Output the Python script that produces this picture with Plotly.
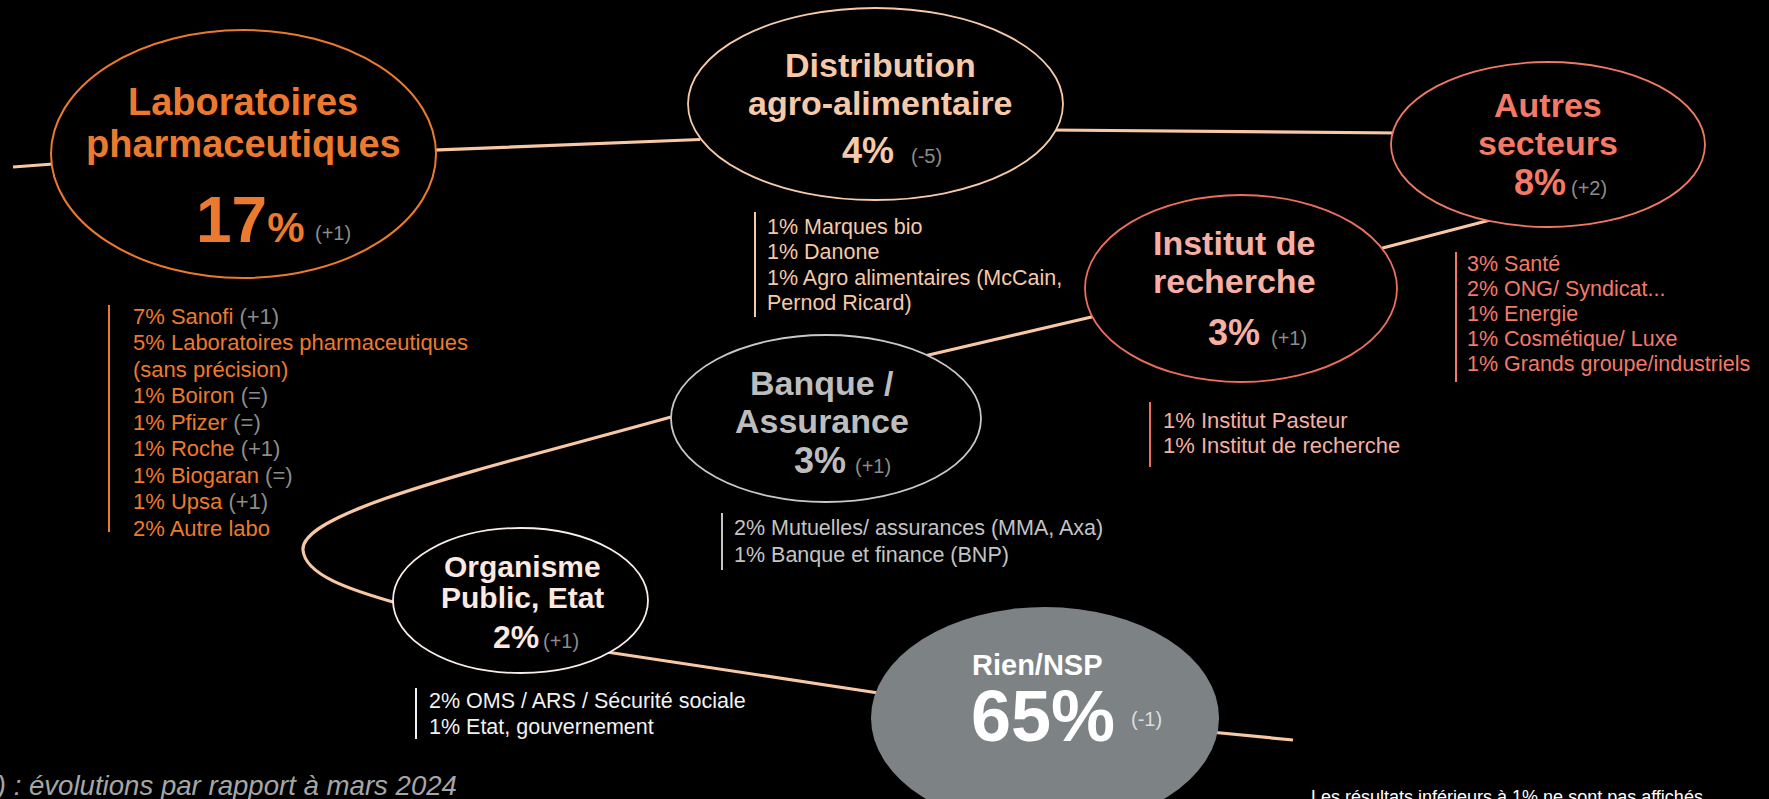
import plotly.graph_objects as go

W, H = 1769, 799
FONT = "Liberation Sans, Arial, sans-serif"

# ------------------------------------------------------------------ data
sectors = ["Laboratoires<br>pharmaceutiques", "Distribution<br>agro-alimentaire",
           "Autres<br>secteurs", "Institut de<br>recherche", "Banque /<br>Assurance",
           "Organisme<br>Public, Etat", "Rien/NSP"]
sector_values = [17, 4, 8, 3, 3, 2, 65]
sector_changes = ["+1", "-5", "+2", "+1", "+1", "+1", "-1"]

labo_labels = ["Sanofi", "Laboratoires pharmaceutiques<br>(sans précision)", "Boiron", "Pfizer",
               "Roche", "Biogaran", "Upsa", "Autre labo"]
labo_values = [7, 5, 1, 1, 1, 1, 1, 2]
labo_changes = ["+1", "", "=", "=", "+1", "=", "+1", ""]

dist_labels = ["Marques bio", "Danone", "Agro alimentaires (McCain,<br>Pernod Ricard)"]
dist_values = [1, 1, 1]

autres_labels = ["Santé", "ONG/ Syndicat...", "Energie", "Cosmétique/ Luxe", "Grands groupe/industriels"]
autres_values = [3, 2, 1, 1, 1]

institut_labels = ["Institut Pasteur", "Institut de recherche"]
institut_values = [1, 1]

banque_labels = ["Mutuelles/ assurances (MMA, Axa)", "Banque et finance (BNP)"]
banque_values = [2, 1]

orga_labels = ["OMS / ARS / Sécurité sociale", "Etat, gouvernement"]
orga_values = [2, 1]

sub_labels = [labo_labels, dist_labels, autres_labels, institut_labels, banque_labels, orga_labels, []]
sub_values = [labo_values, dist_values, autres_values, institut_values, banque_values, orga_values, []]
sub_changes = [labo_changes, [], [], [], [], [], []]

footnote_left = "(xx) : évolutions par rapport à mars 2024"
footnote_right = "Les résultats inférieurs à 1% ne sont pas affichés"

# ------------------------------------------------------------------ layout / styles
nodes = [
    dict(box=(51, 436, 30, 278), border="#EC7A2E", bw=2, fill="#000000", tc="#EC7A2E", tfs=38,
         tcx=243, tb=[115, 157], nx=195, nb=242, nfs=64, pfs=42, cx=314, cb=240,
         bar=(109, 305, 532), lx=132, l0=316, ls=26.5, lfs=22, lc="#EC7A2E"),
    dict(box=(688, 1063, 8, 200), border="#F6C9A8", bw=1.8, fill="#000000", tc="#F6C9A8", tfs=34,
         tcx=880, tb=[77, 115], nx=841, nb=163, nfs=36, pfs=36, cx=910, cb=163,
         bar=(755, 212, 317), lx=766, l0=227, ls=25.4, lfs=21.5, lc="#F6C9A8"),
    dict(box=(1391, 1705, 62, 227), border="#F07864", bw=1.8, fill="#000000", tc="#F47A66", tfs=34,
         tcx=1548, tb=[117, 155], nx=1513, nb=195, nfs=36, pfs=36, cx=1570, cb=195,
         bar=(1456, 252, 382), lx=1466, l0=264, ls=25, lfs=21.5, lc="#F27A68"),
    dict(box=(1085, 1397, 195, 382), border="#EE6E5E", bw=1.8, fill="#000000", tc="#F6AFA2", tfs=34,
         tcx=1234, tb=[255, 293], nx=1207, nb=345, nfs=36, pfs=36, cx=1270, cb=345,
         bar=(1150, 402, 467), lx=1162, l0=420, ls=25, lfs=22, lc="#F3B0A3"),
    dict(box=(671, 981, 335, 502), border="#C8C8C8", bw=1.8, fill="#000000", tc="#BDBDBD", tfs=34,
         tcx=822, tb=[395, 433], nx=793, nb=473, nfs=36, pfs=36, cx=854, cb=473,
         bar=(722, 513, 570), lx=733, l0=528, ls=27, lfs=21.5, lc="#C4C4C4"),
    dict(box=(393, 648, 528, 673), border="#F8EDE8", bw=1.8, fill="#000000", tc="#FCE9E1", tfs=30,
         tcx=522, tb=[577, 608], nx=492, nb=648, nfs=32, pfs=32, cx=542, cb=648,
         bar=(416, 688, 739), lx=428, l0=701, ls=26, lfs=21.5, lc="#F2F2F2"),
    dict(box=(871, 1219, 607, 829), border=None, bw=0, fill="#7D8284", tc="#FFFFFF", tfs=29,
         tcx=1037, tb=[675], nx=970, nb=741, nfs=72, pfs=72, cx=1130, cb=726,
         bar=None, lx=0, l0=0, ls=0, lfs=0, lc="#FFFFFF"),
]
CHG = "#8C8C8C"
LINE = "#F8C8A5"

connector = ("M 13 167 L 80 162 "
             "M 420 150.6 L 700 139.5 "
             "M 1050 130 L 1400 133 "
             "M 1495 218.7 L 1375 250 "
             "M 1100 315 L 920 357 "
             "M 671 417 C 500 465, 300 510, 303 550 C 305 575, 350 590, 400 604 "
             "M 600 651 L 885 694 "
             "M 1200 731 L 1293 740")

shapes = [dict(type="path", path=connector, xref="x", yref="y",
               line=dict(color=LINE, width=3.2), layer="above")]
ann = []


def text(x, base, s, fs, color, bold=False, anchor="left", italic=False):
    ann.append(dict(x=x, y=base - 0.3465 * fs, xref="x", yref="y", text=s, showarrow=False,
                    xanchor=anchor, yanchor="middle", borderpad=0,
                    font=dict(family=FONT, size=fs, color=color,
                              weight="bold" if bold else "normal",
                              style="italic" if italic else "normal")))


for i, st in enumerate(nodes):
    x0, x1, y0, y1 = st["box"]
    shp = dict(type="circle", xref="x", yref="y", x0=x0, x1=x1, y0=y0, y1=y1,
               fillcolor=st["fill"], layer="above")
    shp["line"] = dict(color=st["border"], width=st["bw"]) if st["border"] else dict(width=0)
    shapes.append(shp)

    for line, b in zip(sectors[i].split("<br>"), st["tb"]):
        text(st["tcx"], b, line, st["tfs"], st["tc"], bold=True, anchor="center")
    if st["pfs"] != st["nfs"]:
        val = f"{sector_values[i]}<span style='font-size:{st['pfs']}px'>%</span>"
    else:
        val = f"{sector_values[i]}%"
    text(st["nx"], st["nb"], val, st["nfs"], st["tc"], bold=True)
    text(st["cx"], st["cb"], f"({sector_changes[i]})", 20,
         "#DDDDDD" if i == 6 else CHG)

    if st["bar"]:
        bx, by0, by1 = st["bar"]
        shapes.append(dict(type="line", xref="x", yref="y", x0=bx, x1=bx, y0=by0, y1=by1,
                           line=dict(color=st["lc"] if i != 3 else "#EE6E5E", width=2), layer="above"))
        k = 0
        chs = sub_changes[i]
        for j, (lab, v) in enumerate(zip(sub_labels[i], sub_values[i])):
            parts = lab.split("<br>")
            for p_i, part in enumerate(parts):
                s = (f"{v}% " if p_i == 0 else "") + part
                if p_i == len(parts) - 1 and j < len(chs) and chs[j]:
                    s += f" <span style='color:{CHG}'>({chs[j]})</span>"
                text(st["lx"], st["l0"] + k * st["ls"] + 0.3465 * st["lfs"], s, st["lfs"], st["lc"])
                k += 1

# footnotes
text(458, 795, footnote_left, 27.6, "#A6A6A6", italic=True, anchor="right")
text(1310, 803, footnote_right, 18, "#FFFFFF")

fig = go.Figure()
fig.add_trace(go.Scatter(x=[0], y=[0], mode="markers", marker=dict(opacity=0),
                         hoverinfo="skip", showlegend=False))
fig.update_layout(
    width=W, height=H, margin=dict(l=0, r=0, t=0, b=0),
    paper_bgcolor="#000000", plot_bgcolor="#000000",
    xaxis=dict(range=[0, W], visible=False, fixedrange=True),
    yaxis=dict(range=[H, 0], visible=False, fixedrange=True),
    shapes=shapes, annotations=ann, showlegend=False,
)
fig.write_html("out.html", config={"displayModeBar": False},
               post_script="document.body.style.margin='0';"
                           "document.body.style.background='#000';"
                           "document.documentElement.style.background='#000';")
